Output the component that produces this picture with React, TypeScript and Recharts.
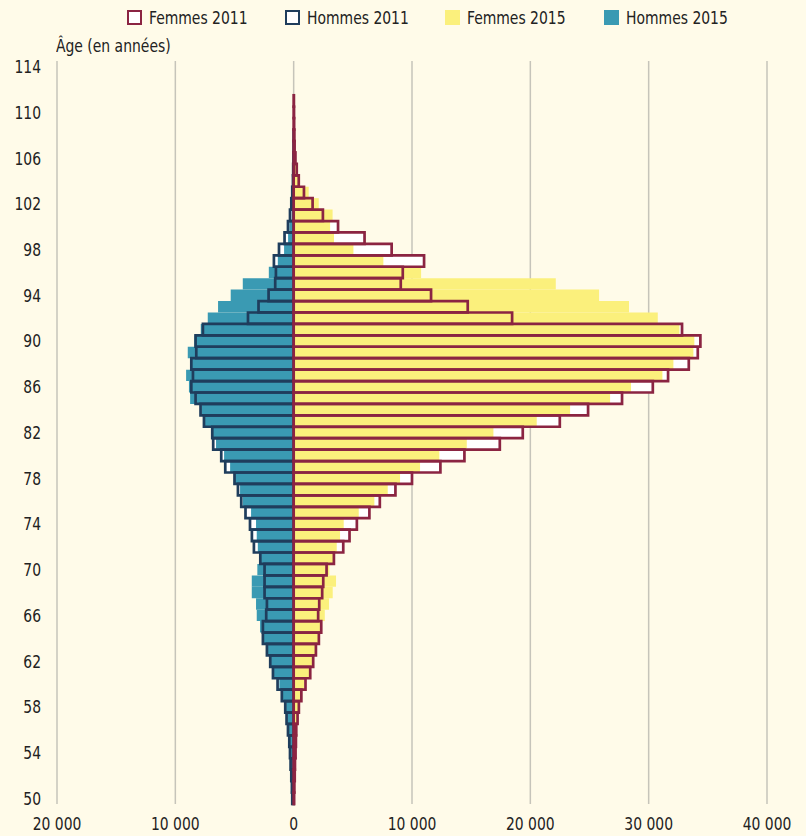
import { BarChart, Bar, XAxis, YAxis, CartesianGrid } from "recharts";

// ages 50 .. 111 (one value per age)
const FIRST_AGE = 50;
const LAST_AGE = 114;

const femmes2011 = [
  40, 60, 90, 110, 160, 190, 220, 330, 440, 650,
  1000, 1400, 1650, 1880, 2130, 2330, 2070, 2160, 2410, 2500,
  2780, 3400, 4190, 4720, 5340, 6400, 7280, 8600, 10000, 12400,
  14430, 17420, 19360, 22490, 24880, 27750, 30350, 31640, 33390, 34150,
  34370, 32820, 18460, 14710, 11610, 9050, 9220, 11020, 8280, 5990,
  3750, 2470, 1600, 870, 430, 260, 150, 80, 60, 40,
  30, 20,
];
const femmes2015 = [
  60, 80, 100, 120, 150, 200, 260, 320, 455, 620,
  900, 1300, 1580, 1810, 2060, 2290, 2630, 2990, 3300, 3580,
  3020, 3360, 3640, 3920, 4230, 5500, 6820, 7950, 8990, 10680,
  12310, 14630, 16880, 20540, 23360, 26740, 28510, 31160, 32090, 33780,
  33860, 32600, 30770, 28340, 25810, 22150, 10770, 7580, 5050, 3410,
  3080, 3290, 2120, 1270, 440, 200, 120, 60, 30, 20,
  10, 5,
];
const hommes2011 = [
  120, 150, 200, 260, 310, 370, 480, 600, 710, 1000,
  1360, 1750, 1980, 2260, 2600, 2600, 2320, 2260, 2460, 2460,
  2460, 2820, 3360, 3530, 3690, 4070, 4430, 4710, 5000, 5780,
  6120, 6800, 6880, 7580, 7870, 8290, 8650, 8510, 8650, 8230,
  8290, 7670, 3860, 2970, 2120, 1560, 1500, 1670, 1240, 770,
  480, 310, 200, 120, 60, 40, 20, 10, 5, 0,
  0, 0,
];
const hommes2015 = [
  100, 130, 170, 220, 270, 330, 420, 520, 640, 900,
  1210, 1660, 1940, 2220, 2560, 2840, 3120, 3180, 3540, 3540,
  3070, 2840, 3030, 3120, 3180, 3600, 4300, 4530, 5010, 5370,
  5880, 6560, 6840, 7550, 7800, 8750, 8850, 9090, 8750, 8950,
  8390, 7850, 7260, 6390, 5320, 4300, 2100, 1340, 810, 470,
  360, 160, 100, 60, 30, 15, 0, 0, 0, 0,
  0, 0,
];

const seriesLabels = ["Femmes 2011", "Hommes 2011", "Femmes 2015", "Hommes 2015"];
const xTicks = [-20000, -10000, 0, 10000, 20000, 30000, 40000];
const yTitle = "Âge (en années)";

const BG = "#fffbe9";
const YELLOW = "#fbf07c";
const TEAL = "#3a9ab3";
const MAROON = "#8b2442";
const NAVY = "#1f3d5c";
const TEXT = "#222";
const FONT = "'Liberation Sans Narrow', 'Arial Narrow', 'DejaVu Sans Condensed', sans-serif";
const SQUEEZE = 0.86; // condensed look of the original font

// top-down: 114 ... 50
const rows: any[] = [];
for (let a = LAST_AGE; a >= FIRST_AGE; a--) {
  const i = a - FIRST_AGE;
  const f11 = femmes2011[i] ?? 0;
  const h11 = -(hommes2011[i] ?? 0);
  rows.push({
    age: String(a),
    f11, h11,
    f11o: f11, h11o: h11,
    f15: femmes2015[i] ?? 0,
    h15: -(hommes2015[i] ?? 0),
  });
}

const fmt = (v: number) => {
  const s = String(Math.abs(v));
  return s.length > 3 ? s.slice(0, -3) + " " + s.slice(-3) : s;
};

const BAR = 11.42;

const XTick = (p: any) => (
  <text transform={`translate(${p.x},${p.y}) scale(${SQUEEZE},1)`} textAnchor="middle" dy="0.71em"
    fill={TEXT} fontSize={18} fontFamily={FONT}>{fmt(p.payload.value)}</text>
);
const YTick = (p: any) => (
  <text transform={`translate(${p.x},${p.y}) scale(${SQUEEZE},1)`} textAnchor="end" dy="0.355em"
    fill={TEXT} fontSize={18} fontFamily={FONT}>{p.payload.value}</text>
);

const legendItems = [
  { label: seriesLabels[0], x: 127, fill: "#fff", border: MAROON },
  { label: seriesLabels[1], x: 285, fill: "#fff", border: NAVY },
  { label: seriesLabels[2], x: 445, fill: YELLOW, border: null },
  { label: seriesLabels[3], x: 604, fill: TEAL, border: null },
];

const squeezed = (txt: string) => (
  <span style={{ display: "inline-block", fontSize: 18, fontFamily: FONT, color: TEXT, whiteSpace: "nowrap",
    transform: `scaleX(${SQUEEZE})`, transformOrigin: "left center" }}>{txt}</span>
);

function Legend() {
  return (
    <>
      {legendItems.map((it) => (
        <div key={it.label} style={{ position: "absolute", left: it.x, top: 7, height: 20, display: "flex", alignItems: "center" }}>
          <div style={{
            width: 15, height: 15, boxSizing: "border-box", background: it.fill, flex: "none",
            border: it.border ? `2.5px solid ${it.border}` : "none", marginRight: 7,
          }} />
          {squeezed(it.label)}
        </div>
      ))}
    </>
  );
}

export default function App() {
  return (
    <div style={{ position: "absolute", left: 0, top: 0, width: 806, height: 836, background: BG, overflow: "hidden" }}>
      <Legend />
      <div style={{ position: "absolute", left: 56, top: 35 }}>{squeezed(yTitle)}</div>
      <div style={{ position: "absolute", left: 0, top: 0 }}>
        <BarChart width={806} height={836} data={rows} layout="vertical"
          margin={{ top: 61, right: 39, bottom: 0, left: 0 }}
          barSize={BAR} barGap={-BAR} barCategoryGap={0}>
          <CartesianGrid horizontal={false} stroke="#c6c4ba" strokeWidth={1.5} />
          <XAxis type="number" domain={[-20000, 40000]} ticks={xTicks} allowDataOverflow
            axisLine={false} tickLine={false} height={32} tickSize={0} tickMargin={13}
            tick={<XTick />} />
          <YAxis type="category" dataKey="age" interval={3} width={57} axisLine={false} tickLine={false}
            tickSize={0} tickMargin={16} tick={<YTick />} />
          <Bar dataKey="h11" fill="#fff" isAnimationActive={false} />
          <Bar dataKey="f11" fill="#fff" isAnimationActive={false} />
          <Bar dataKey="h15" fill={TEAL} isAnimationActive={false} />
          <Bar dataKey="f15" fill={YELLOW} isAnimationActive={false} />
          <Bar dataKey="h11o" fill="none" stroke={NAVY} strokeWidth={2.7} isAnimationActive={false} />
          <Bar dataKey="f11o" fill="none" stroke={MAROON} strokeWidth={2.7} isAnimationActive={false} />
        </BarChart>
      </div>
    </div>
  );
}
